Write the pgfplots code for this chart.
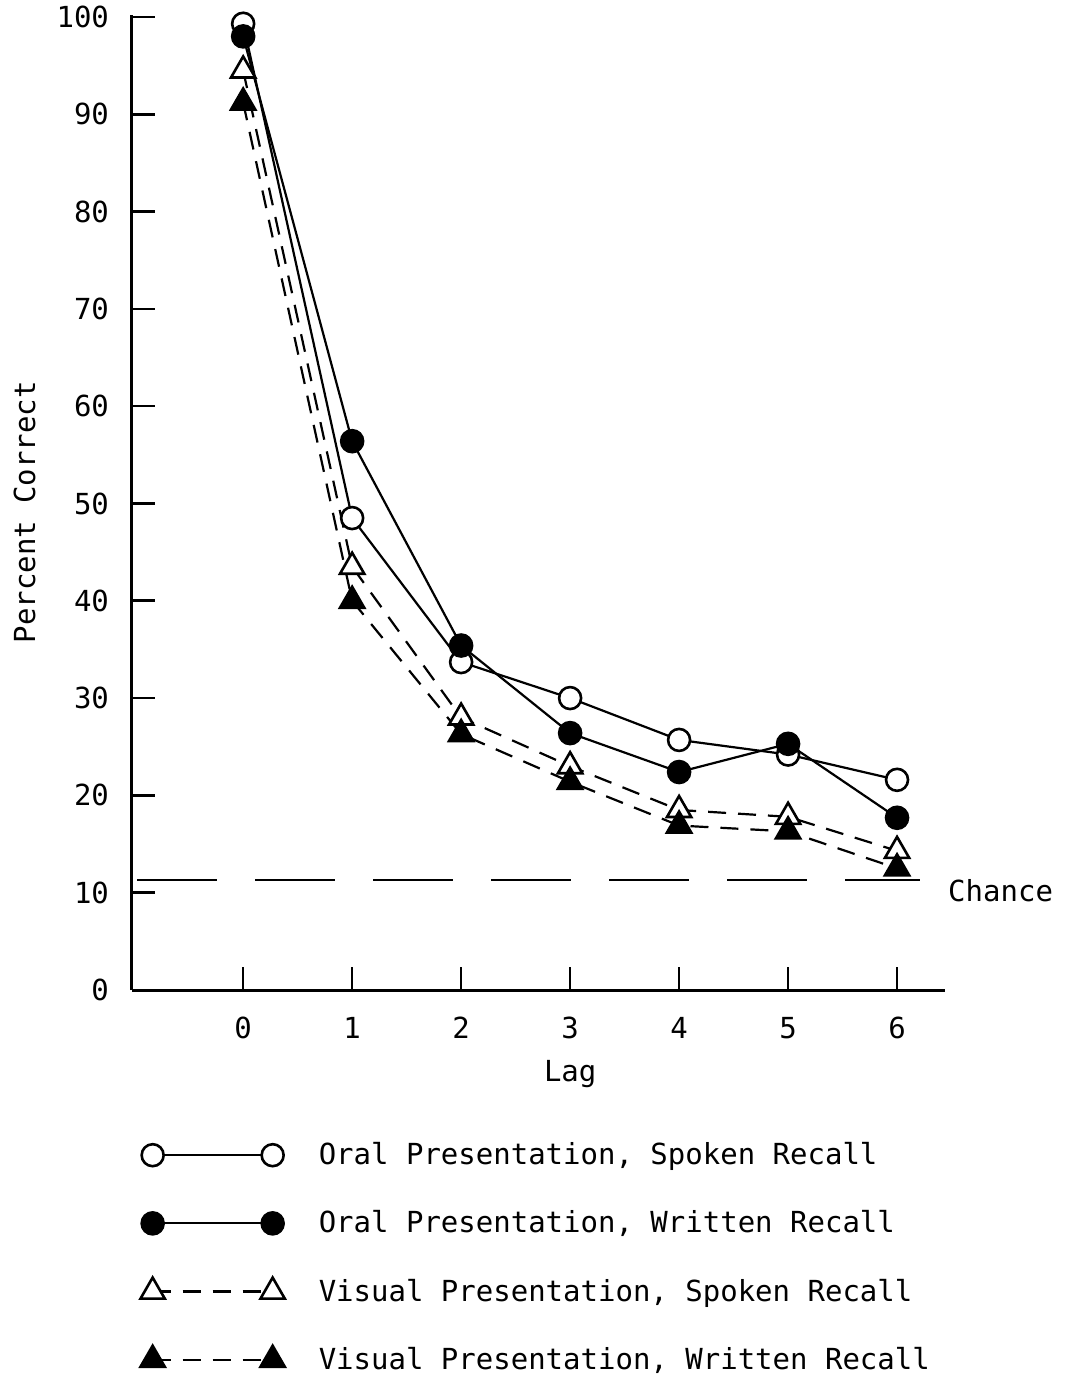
\documentclass[border=0pt]{standalone}
\usepackage{fontspec}
\setmainfont{DejaVu Sans Mono}
\usepackage{pgfplots}
\pgfplotsset{compat=1.18}
\begin{document}
\begin{tikzpicture}
\path[use as bounding box] (-66pt,-195.5pt) rectangle (466.5pt,495pt);
\begin{axis}[
  at={(0pt,0pt)}, anchor=south west,
  scale only axis, width=406.5pt, height=487.5pt,
  xmin=-1.02, xmax=6.44, ymin=0, ymax=100.2,
  axis lines=left, axis line style={-, line width=1.5pt},
  xtick={0,...,6}, ytick={0,10,...,100},
  tick align=inside, major tick length=11.5pt,
  tick style={line width=1.3pt, black},
  clip=false,
  /pgf/number format/assume math mode=true,
  tick label style={font=\fontsize{14.5}{17}\selectfont},
  xticklabel style={yshift=-10pt},
  yticklabel style={xshift=-8pt},
  label style={font=\fontsize{14.5}{17}\selectfont},
  xlabel={Lag}, ylabel={Percent Correct},
  xlabel style={at={(axis description cs:0.539,-0.086)}, anchor=center},
  ylabel style={at={(axis description cs:-0.132,0.49)}, anchor=center, rotate=0},
  legend cell align=left,
  legend style={at={(0.01,-0.152)}, anchor=north west, draw=none, fill=none,
    font=\fontsize{14.5}{17}\selectfont, row sep=17.5pt, inner sep=0pt,
    /tikz/every odd column/.append style={column sep=15pt}},
  legend image code/.code={\draw[#1] plot coordinates {(0pt,0pt) (60pt,0pt)};},
]
\addplot[forget plot, line width=1.4pt, dash pattern=on 40pt off 19pt] coordinates {(-0.97,11.3) (6.21,11.3)};
\addplot[line width=1.1pt, mark=*, mark size=5.5pt, mark options={fill=white, line width=1.3pt}]
  coordinates {(0,99.3) (1,48.5) (2,33.7) (3,30) (4,25.7) (5,24.2) (6,21.6)};
\addlegendentry{Oral Presentation, Spoken Recall}
\addplot[line width=1.1pt, mark=*, mark size=5.5pt, mark options={fill=black, line width=1.3pt}]
  coordinates {(0,98) (1,56.4) (2,35.4) (3,26.4) (4,22.4) (5,25.3) (6,17.7)};
\addlegendentry{Oral Presentation, Written Recall}
\addplot[line width=1.1pt, dash pattern=on 9pt off 6pt, mark=triangle*, mark size=7pt, mark options={solid, fill=white, line width=1.3pt}]
  coordinates {(0,94.5) (1,43.5) (2,28) (3,23) (4,18.5) (5,17.8) (6,14.3)};
\addlegendentry{Visual Presentation, Spoken Recall}
\addplot[line width=1.1pt, dash pattern=on 9pt off 6pt, mark=triangle*, mark size=7pt, mark options={solid, fill=black, line width=1.3pt}]
  coordinates {(0,91.2) (1,40) (2,26.3) (3,21.4) (4,16.9) (5,16.3) (6,12.5)};
\addlegendentry{Visual Presentation, Written Recall}
\node[font=\fontsize{14.5}{17}\selectfont] at (axis cs:6.95,10.2) {Chance};
\end{axis}
\end{tikzpicture}
\end{document}
